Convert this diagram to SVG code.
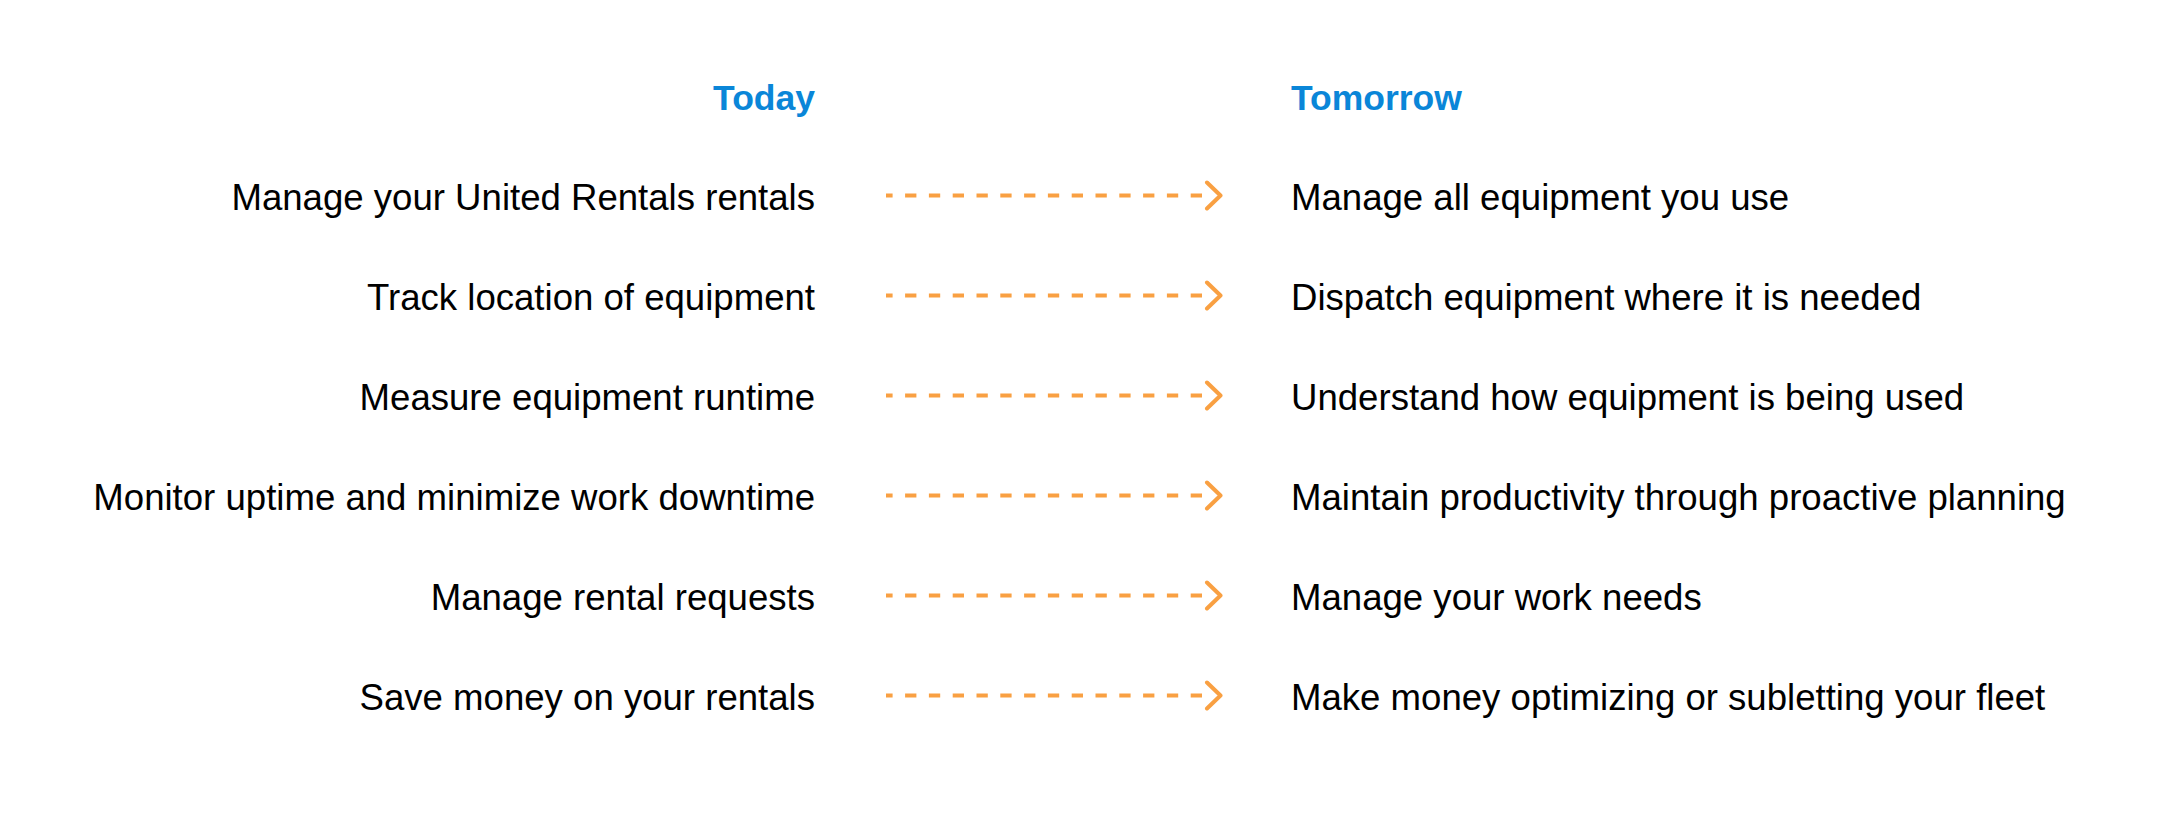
<svg xmlns="http://www.w3.org/2000/svg" width="2160" height="820" viewBox="0 0 2160 820">
<style>
.hd{font-family:"Liberation Sans",Arial,sans-serif;font-weight:bold;font-size:35.5px;fill:#0A86D8}
.t{font-family:"Liberation Sans",Arial,sans-serif;font-size:36.6px;fill:#000}
.l{text-anchor:end}
.ln{stroke:#F9A042;stroke-width:4;fill:none;stroke-dasharray:11.3 12.5}
.hd2{stroke:#F9A042;stroke-width:4;fill:none;stroke-linecap:round;stroke-linejoin:round}
</style>
<rect width="2160" height="820" fill="#fff"/>
<g id="headers">
<text class="hd l" x="815" y="110">Today</text>
<text class="hd" x="1291" y="110">Tomorrow</text>
</g>
<g id="today">
<text class="t l" x="815" y="210">Manage your United Rentals rentals</text>
<text class="t l" x="815" y="310">Track location of equipment</text>
<text class="t l" x="815" y="410">Measure equipment runtime</text>
<text class="t l" x="815" y="510">Monitor uptime and minimize work downtime</text>
<text class="t l" x="815" y="610">Manage rental requests</text>
<text class="t l" x="815" y="710">Save money on your rentals</text>
</g>
<g id="tomorrow">
<text class="t" x="1291" y="210">Manage all equipment you use</text>
<text class="t" x="1291" y="310">Dispatch equipment where it is needed</text>
<text class="t" x="1291" y="410">Understand how equipment is being used</text>
<text class="t" x="1291" y="510">Maintain productivity through proactive planning</text>
<text class="t" x="1291" y="610">Manage your work needs</text>
<text class="t" x="1291" y="710">Make money optimizing or subletting your fleet</text>
</g>
<g id="connectors">
<path class="ln" d="M1202 195.5H886M1202 295.5H886M1202 395.5H886M1202 495.5H886M1202 595.5H886M1202 695.5H886"/>
<path class="hd2" d="M1207 182.5L1220.5 195.5L1207 208.5M1207 282.5L1220.5 295.5L1207 308.5M1207 382.5L1220.5 395.5L1207 408.5M1207 482.5L1220.5 495.5L1207 508.5M1207 582.5L1220.5 595.5L1207 608.5M1207 682.5L1220.5 695.5L1207 708.5"/>
</g>
</svg>
